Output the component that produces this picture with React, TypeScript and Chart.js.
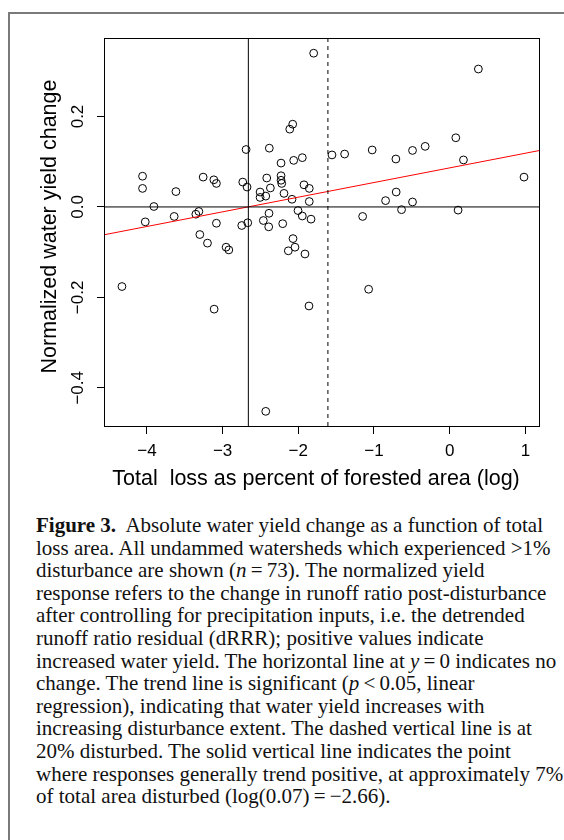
import React, { useEffect, useRef } from "react";
import { Chart, registerables } from "chart.js";

Chart.register(...registerables);

// Total loss as percent of forested area (natural log)
const LOSS_X = [
  -1.797, -2.074, -2.113, -2.69, -2.383, -2.228, -2.061, -1.947, -4.058, -4.058,
  -3.617, -3.257, -3.116, -3.082, -2.734, -2.677, -2.417, -2.369, -2.505, -2.505,
  -2.43, -2.228, -2.228, -2.219, -2.189, -2.083, -1.925, -1.855, -1.855, -3.908,
  -4.022, -3.64, -3.354, -3.314, -3.082, -2.747, -2.668, -2.462, -2.387, -2.391,
  -2.206, -2.004, -1.947, -1.832, 0.379, 0.081, 0.182, 0.982, -1.555, -1.388,
  -1.024, -0.711, -0.491, -0.324, -0.707, -0.847, -0.491, -0.636, 0.111, -1.15,
  -3.301, -3.2, -2.954, -2.918, -2.07, -2.044, -2.132, -1.912, -4.33, -3.112,
  -1.859, -2.43, -1.071,
];

// Normalized water yield change
const YIELD_Y = [
  0.34, 0.183, 0.172, 0.127, 0.13, 0.097, 0.103, 0.109, 0.068, 0.041,
  0.034, 0.066, 0.06, 0.052, 0.055, 0.044, 0.064, 0.042, 0.033, 0.021,
  0.024, 0.069, 0.059, 0.052, 0.03, 0.017, 0.049, 0.041, 0.012, 0.001,
  -0.033, -0.021, -0.016, -0.01, -0.036, -0.041, -0.035, -0.03, -0.014, -0.044,
  -0.037, -0.008, -0.02, -0.027, 0.305, 0.153, 0.104, 0.066, 0.115, 0.117,
  0.126, 0.106, 0.125, 0.134, 0.033, 0.014, 0.011, -0.006, -0.007, -0.021,
  -0.061, -0.08, -0.089, -0.095, -0.07, -0.089, -0.097, -0.104, -0.176, -0.226,
  -0.219, -0.452, -0.182,
];

const X_TICKS = [-4, -3, -2, -1, 0, 1];
const X_TICK_LABELS = ["\u22124", "\u22123", "\u22122", "\u22121", "0", "1"];
const Y_TICKS = [-0.4, -0.2, 0, 0.2];
const Y_TICK_LABELS = ["\u22120.4", "\u22120.2", "0.0", "0.2"];

const X_MIN = -4.554;
const X_MAX = 1.18;
const Y_MIN = -0.4844;
const Y_MAX = 0.3714;

const ZERO_LINE_Y = 0;
const SOLID_LINE_X = -2.66; // log(0.07)
const DASHED_LINE_X = -1.609; // log(0.2)
const TREND_INTERCEPT = 0.0864;
const TREND_SLOPE = 0.0324;

const X_TITLE = "Total  loss as percent of forested area (log)  ";
const Y_TITLE = "  Normalized water yield change";

const AXIS_FONT = "'Liberation Sans', Arial, Helvetica, sans-serif";
const SERIF = "'Liberation Serif', 'Times New Roman', Times, serif";

const CAPTION_LINES: React.ReactNode[] = [
  <>
    <b>Figure 3.</b>
    {"\u00a0 Absolute water yield change as a function of total"}
  </>,
  <>loss area. All undammed watersheds which experienced &gt;1%</>,
  <>
    disturbance are shown (<i>n</i>
    {"\u2009=\u200973). The normalized yield"}
  </>,
  <>response refers to the change in runoff ratio post-disturbance</>,
  <>after controlling for precipitation inputs, i.e. the detrended</>,
  <>runoff ratio residual (dRRR); positive values indicate</>,
  <>
    increased water yield. The horizontal line at <i>y</i>
    {"\u2009=\u20090 indicates no"}
  </>,
  <>
    change. The trend line is significant (<i>p</i>
    {"\u2009<\u20090.05, linear"}
  </>,
  <>regression), indicating that water yield increases with</>,
  <>increasing disturbance extent. The dashed vertical line is at</>,
  <>20% disturbed. The solid vertical line indicates the point</>,
  <>where responses generally trend positive, at approximately 7%</>,
  <>{"of total area disturbed (log(0.07)\u2009=\u2009\u22122.66)."}</>,
];

export default function App() {
  const canvasRef = useRef<HTMLCanvasElement>(null);

  useEffect(() => {
    const canvas = canvasRef.current;
    if (!canvas) return;

    const boxPlugin = {
      id: "plotBox",
      afterDatasetsDraw(chart: any) {
        const { ctx, chartArea } = chart;
        const { left, top, right, bottom } = chartArea;
        ctx.save();
        ctx.strokeStyle = "#000";
        ctx.lineWidth = 1;
        ctx.strokeRect(left - 0.5, top - 0.5, right - left + 1, bottom - top + 1);
        ctx.restore();
      },
    };

    const points = LOSS_X.map((x, i) => ({ x, y: YIELD_Y[i] }));
    const lineStyle = {
      showLine: true,
      pointRadius: 0,
      borderWidth: 1,
      fill: false,
    };

    const chart = new Chart(canvas, {
      type: "scatter",
      data: {
        datasets: [
          {
            data: [
              { x: X_MIN, y: ZERO_LINE_Y },
              { x: X_MAX, y: ZERO_LINE_Y },
            ],
            borderColor: "#000",
            ...lineStyle,
          },
          {
            data: [
              { x: SOLID_LINE_X, y: Y_MIN },
              { x: SOLID_LINE_X, y: Y_MAX },
            ],
            borderColor: "#000",
            ...lineStyle,
          },
          {
            data: [
              { x: DASHED_LINE_X, y: Y_MIN },
              { x: DASHED_LINE_X, y: Y_MAX },
            ],
            borderColor: "#000",
            borderDash: [4, 4],
            ...lineStyle,
          },
          {
            data: [
              { x: X_MIN, y: TREND_INTERCEPT + TREND_SLOPE * X_MIN },
              { x: X_MAX, y: TREND_INTERCEPT + TREND_SLOPE * X_MAX },
            ],
            borderColor: "#ff0000",
            ...lineStyle,
          },
          {
            data: points,
            showLine: false,
            pointStyle: "circle",
            pointRadius: 3.9,
            pointBorderWidth: 1,
            pointBorderColor: "#000",
            pointBackgroundColor: "rgba(0,0,0,0)",
            borderColor: "#000",
            backgroundColor: "rgba(0,0,0,0)",
          },
        ],
      },
      options: {
        responsive: false,
        animation: false,
        events: [],
        layout: { padding: { top: 39, right: 25, left: 0, bottom: 0 } },
        plugins: {
          legend: { display: false },
          tooltip: { enabled: false },
          title: { display: false },
        },
        scales: {
          x: {
            type: "linear",
            position: "bottom",
            min: X_MIN,
            max: X_MAX,
            afterBuildTicks: (scale: any) => {
              scale.ticks = X_TICKS.map((v) => ({ value: v }));
            },
            afterFit: (scale: any) => {
              scale.height = 84;
            },
            grid: {
              display: true,
              drawOnChartArea: false,
              drawTicks: true,
              tickLength: 8,
              color: "#000",
              lineWidth: 1,
            },
            border: { display: false },
            ticks: {
              autoSkip: false,
              maxRotation: 0,
              minRotation: 0,
              padding: 7,
              color: "#000",
              font: { family: AXIS_FONT, size: 17 },
              callback: (_v: any, i: number) => X_TICK_LABELS[i],
            },
            title: {
              display: true,
              text: X_TITLE,
              color: "#000",
              font: { family: AXIS_FONT, size: 21.5 },
              padding: { top: 0, bottom: 18 },
            },
          },
          y: {
            type: "linear",
            position: "left",
            min: Y_MIN,
            max: Y_MAX,
            afterBuildTicks: (scale: any) => {
              scale.ticks = Y_TICKS.map((v) => ({ value: v }));
            },
            afterFit: (scale: any) => {
              scale.width = 105;
            },
            grid: {
              display: true,
              drawOnChartArea: false,
              drawTicks: true,
              tickLength: 8,
              color: "#000",
              lineWidth: 1,
            },
            border: { display: false },
            ticks: {
              minRotation: 90,
              maxRotation: 90,
              crossAlign: "center",
              padding: 1.5,
              color: "#000",
              font: { family: AXIS_FONT, size: 17 },
              callback: (_v: any, i: number) => Y_TICK_LABELS[i],
            },
            title: {
              display: true,
              text: Y_TITLE,
              color: "#000",
              font: { family: AXIS_FONT, size: 21.5 },
              padding: { top: 37, bottom: 0 },
            },
          },
        },
      },
      plugins: [boxPlugin],
    } as any);

    return () => chart.destroy();
  }, []);

  return (
    <div
      style={{
        position: "absolute",
        left: 0,
        top: 0,
        width: 564,
        height: 840,
        overflow: "hidden",
        background: "#fff",
      }}
    >
      <div
        style={{
          position: "absolute",
          left: 8,
          top: 12,
          width: 700,
          height: 900,
          borderLeft: "2px solid #7a7a7a",
          borderTop: "2px solid #7a7a7a",
          boxSizing: "border-box",
        }}
      />
      <canvas
        ref={canvasRef}
        width={564}
        height={510}
        style={{ position: "absolute", left: 0, top: 0, width: 564, height: 510, display: "block" }}
      />
      <div
        style={{
          position: "absolute",
          left: 36,
          top: 514,
          fontFamily: SERIF,
          fontSize: 21,
          lineHeight: "22.6px",
          color: "#111",
        }}
      >
        {CAPTION_LINES.map((line, i) => (
          <div key={i} style={{ whiteSpace: "nowrap", height: 22.6 }}>
            {line}
          </div>
        ))}
      </div>
    </div>
  );
}
